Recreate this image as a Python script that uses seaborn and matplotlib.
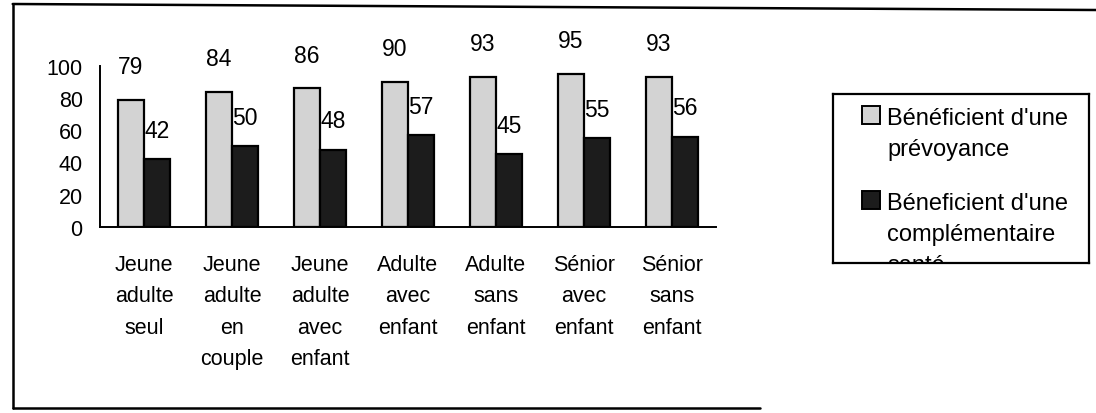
import matplotlib
matplotlib.use("Agg")
import matplotlib.pyplot as plt
from matplotlib.lines import Line2D
from matplotlib.patches import Rectangle
import seaborn as sns
import pandas as pd
import numpy as np

# ---- data ----
categories = ["Jeune\nadulte\nseul", "Jeune\nadulte\nen\ncouple", "Jeune\nadulte\navec\nenfant",
              "Adulte\navec\nenfant", "Adulte\nsans\nenfant", "Sénior\navec\nenfant", "Sénior\nsans\nenfant"]
series_names = ["Bénéficient d'une\nprévoyance", "Béneficient d'une\ncomplémentaire\nsanté"]
prevoyance = [79, 84, 86, 90, 93, 95, 93]
complementaire = [42, 50, 48, 57, 45, 55, 56]
y_ticks = [0, 20, 40, 60, 80, 100]
colors = ["#d3d3d3", "#1c1c1c"]

sns.set_style("white")
plt.rcParams['font.family'] = ['Liberation Sans', 'DejaVu Sans']

df = pd.DataFrame({
    "cat": categories * 2,
    "val": prevoyance + complementaire,
    "serie": [series_names[0]] * len(categories) + [series_names[1]] * len(categories),
})

W, H = 1096, 414
fig = plt.figure(figsize=(W / 100, H / 100), dpi=100)
ax = fig.add_axes([100 / W, 1 - 228 / H, 616 / W, (228 - 66.7) / H])

sns.barplot(data=df, x="cat", y="val", hue="serie", palette=colors, width=0.59,
            edgecolor="black", linewidth=1.6, legend=False, ax=ax, gap=0, saturation=1)

ax.set_xlim(-0.5, len(categories) - 0.5)
ax.set_ylim(0, 100)
ax.set_yticks(y_ticks)
ax.set_xlabel("")
ax.set_ylabel("")
for s in ["top", "right"]:
    ax.spines[s].set_visible(False)
for s in ["left", "bottom"]:
    ax.spines[s].set_linewidth(1.4)
    ax.spines[s].set_color("black")

ax.tick_params(axis="y", direction="out", length=6.5, width=1.4, pad=6, colors="black",
               labelsize=15.5)
ax.tick_params(axis="x", which="major", length=0, pad=19.5, labelsize=15.5, colors="black")
ax.set_xticks(np.arange(-0.5, len(categories), 1.0), minor=True)
ax.tick_params(axis="x", which="minor", direction="out", length=6.5, width=1.4, color="black")
for lab in ax.get_xticklabels():
    lab.set_linespacing(1.65)

for cont, pad in zip(ax.containers, [15.5, 12.5]):
    ax.bar_label(cont, padding=pad, fontsize=16.5, color="black")

# ---- legend (boxed, clipped like the original) ----
lx0, lx1, ly0, ly1 = 833, 1089, 95, 264
lax = fig.add_axes([lx0 / W, 1 - ly1 / H, (lx1 - lx0) / W, (ly1 - ly0) / H])
lw, lh = lx1 - lx0, ly1 - ly0
lax.set_xlim(0, lw)
lax.set_ylim(lh, 0)
lax.set_xticks([])
lax.set_yticks([])
lax.set_facecolor("white")
for s in lax.spines.values():
    s.set_linewidth(1.6)
    s.set_color("black")
first_baselines = [30, 115]
line_step = 31
for name, col, b in zip(series_names, colors, first_baselines):
    lax.add_patch(Rectangle((29, b - 18), 18, 18, facecolor=col, edgecolor="black", linewidth=1.4))
    for k, line in enumerate(name.split("\n")):
        lax.text(54, b + k * line_step, line, fontsize=17, va="baseline", ha="left",
                 color="black", clip_on=True)

# ---- outer frame ----
fig.add_artist(Line2D([12.7 / W, 1.0], [1 - 5 / H, 1 - 11 / H], color="black", lw=1.8))
fig.add_artist(Line2D([12.7 / W, 12.7 / W], [1 - 5 / H, 1 - 409 / H], color="black", lw=1.8))
fig.add_artist(Line2D([12.7 / W, 760 / W], [1 - 409 / H, 1 - 409 / H], color="black", lw=1.8))

fig.savefig("out.png", dpi=100, facecolor="white")
